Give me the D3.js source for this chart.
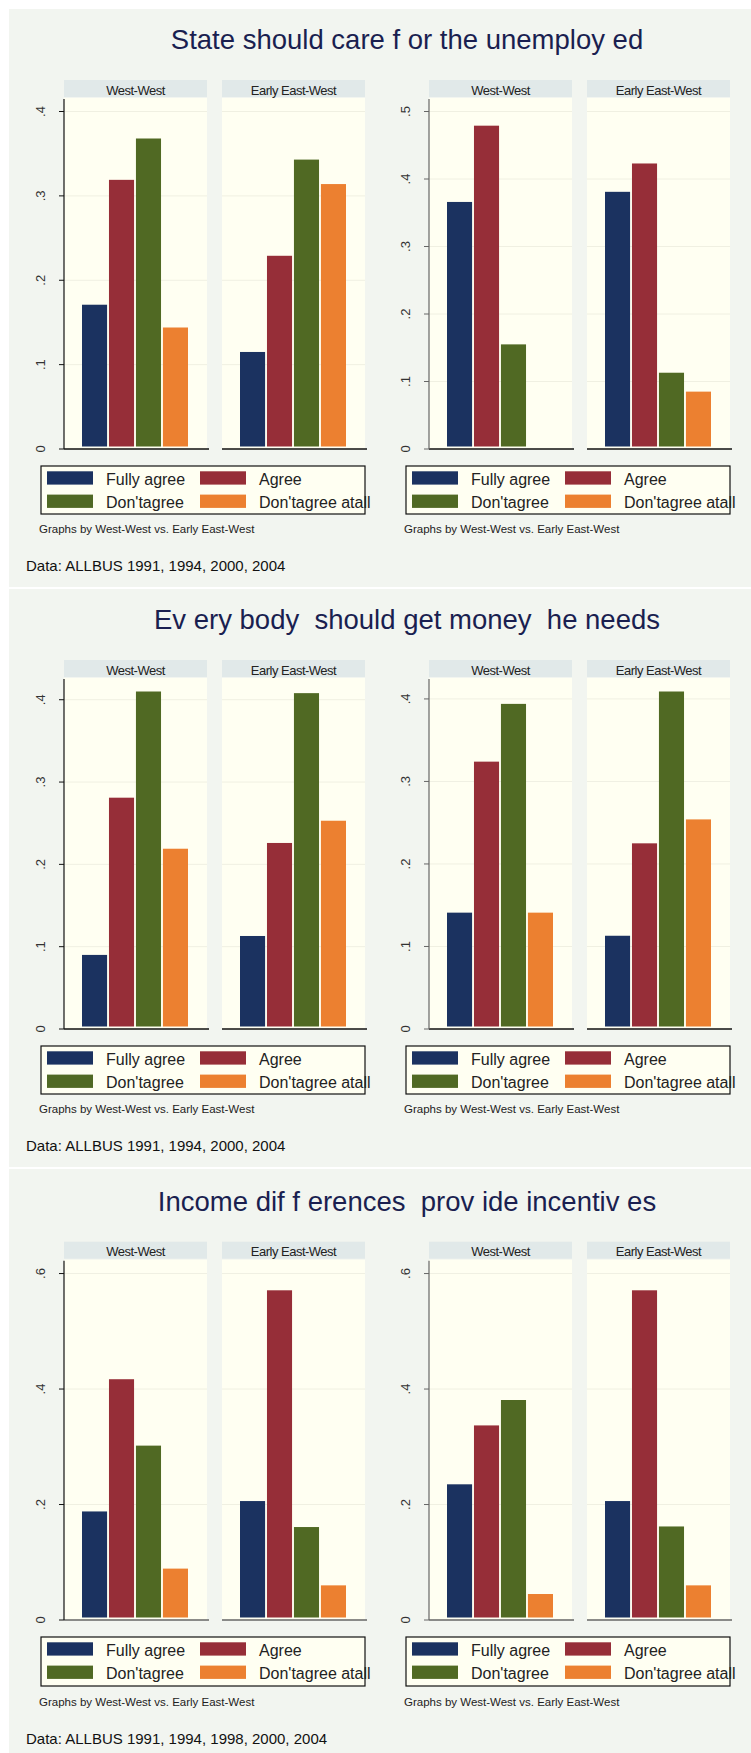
<!DOCTYPE html>
<html>
<head>
<meta charset="utf-8">
<script src="https://cdn.jsdelivr.net/npm/d3@7"></script>
<style>
  html, body { margin: 0; padding: 0; background: #ffffff; }
  svg { display: block; font-family: Arial, "Liberation Sans", sans-serif; }
  .title { white-space: pre; }
</style>
</head>
<body>
<svg id="chart" width="751" height="1753"></svg>
<script>
// ---- Data -------------------------------------------------------------
const categories = ["Fully agree", "Agree", "Don'tagree", "Don'tagree atall"];
const groups = ["West-West", "Early East-West"];
const colors = ["#1b3260", "#962e38", "#506923", "#ec8030"];

const titles = [
  "State should care f or the unemploy ed",
  "Ev ery body  should get money  he needs",
  "Income dif f erences  prov ide incentiv es"
];
const sources = [
  "Data: ALLBUS 1991, 1994, 2000, 2004",
  "Data: ALLBUS 1991, 1994, 2000, 2004",
  "Data: ALLBUS 1991, 1994, 1998, 2000, 2004"
];

const ticksToFour = [0, 0.1, 0.2, 0.3, 0.4];
const ticksToFive = [0, 0.1, 0.2, 0.3, 0.4, 0.5];
const ticksBySteps = [0, 0.2, 0.4, 0.6];

// shares by answer: [West-West, Early East-West]
const careLeft      = [[0.171, 0.319, 0.368, 0.144], [0.115, 0.229, 0.343, 0.314]];
const careRight     = [[0.366, 0.479, 0.155, 0.000], [0.381, 0.423, 0.113, 0.085]];
const moneyLeft     = [[0.090, 0.281, 0.410, 0.219], [0.113, 0.226, 0.408, 0.253]];
const moneyRight    = [[0.141, 0.324, 0.394, 0.141], [0.113, 0.225, 0.409, 0.254]];
const incomeLeft    = [[0.188, 0.417, 0.302, 0.089], [0.206, 0.571, 0.161, 0.060]];
const incomeRight   = [[0.235, 0.337, 0.381, 0.045], [0.206, 0.571, 0.162, 0.060]];

const sections = [
  { title: titles[0], source: sources[0], charts: [
      { values: careLeft,  ticks: ticksToFour },
      { values: careRight, ticks: ticksToFive } ] },
  { title: titles[1], source: sources[1], charts: [
      { values: moneyLeft,  ticks: ticksToFour },
      { values: moneyRight, ticks: ticksToFour } ] },
  { title: titles[2], source: sources[2], charts: [
      { values: incomeLeft,  ticks: ticksBySteps },
      { values: incomeRight, ticks: ticksBySteps } ] }
];

// ---- Layout -----------------------------------------------------------
const W = 751;
const panelTop = [9, 589, 1169];
const panelH = [578, 578, 584];
const axisOffset = [440, 440, 451];     // x-axis line below panel top
const stripOffset = [71, 71, 72.7];
const chartX = [64, 429];               // y-axis position of each chart
const facetW = 143, facetStep = 158, stripH = 17;

const bgPanel = "#f2f5f0", bgPlot = "#fffff2", bgStrip = "#e1e9e9";
const tickFmt = d => d === 0 ? "0" : d3.format(".1f")(d).replace(/^0/, "");

const svg = d3.select("#chart");

sections.forEach((sec, p) => {
  const top = panelTop[p];
  const B = top + axisOffset[p];
  const stripTop = top + stripOffset[p];
  const plotTop = stripTop + stripH + 1;
  const extra = (panelH[p] - 578) / 3;

  svg.append("rect")
    .attr("x", 9).attr("y", top).attr("width", W - 9).attr("height", panelH[p])
    .attr("fill", bgPanel);

  svg.append("text").attr("class", "title")
    .attr("x", 407).attr("y", top + 40 + (p === 2 ? 1.5 : 0))
    .attr("text-anchor", "middle")
    .attr("font-size", 27.5).attr("fill", "#1a1f50")
    .text(sec.title);

  sec.charts.forEach((ch, c) => {
    const ox = chartX[c];
    const axisCol = c === 0 ? "#111" : "#666";
    const xAxisCol = p === 2 ? "#666" : "#111";
    const yTop = Math.max(d3.max(ch.values.flat()), d3.max(ch.ticks)) * 1.04;
    const y = d3.scaleLinear().domain([0, yTop]).range([B, plotTop]);
    const g = svg.append("g");

    groups.forEach((grp, gi) => {
      const fx = ox + gi * facetStep;
      // strip
      g.append("rect").attr("x", fx).attr("y", stripTop)
        .attr("width", facetW).attr("height", stripH).attr("fill", bgStrip);
      g.append("text").attr("x", fx + facetW / 2).attr("y", stripTop + stripH - 2.5)
        .attr("text-anchor", "middle").attr("font-size", 13)
        .attr("letter-spacing", -0.5).attr("fill", "#222").text(grp);
      // plot region
      g.append("rect").attr("x", fx).attr("y", plotTop)
        .attr("width", facetW).attr("height", B - plotTop).attr("fill", bgPlot);
      // gridlines
      g.selectAll(null).data(ch.ticks.filter(t => t > 0)).join("line")
        .attr("x1", fx).attr("x2", fx + facetW)
        .attr("y1", d => y(d)).attr("y2", d => y(d))
        .attr("stroke", "#f0f0e2").attr("stroke-width", 1);
      // bars
      const x = d3.scaleBand().domain(categories)
        .range([fx + 18, fx + facetW - 19]).paddingInner(0.07);
      g.selectAll(null).data(categories.map((k, i) => ({ k, i, v: ch.values[gi][i] })))
        .join("rect")
        .filter(d => d.v > 0)
        .attr("x", d => x(d.k)).attr("width", x.bandwidth())
        .attr("y", d => y(d.v)).attr("height", d => y(0) - 2.5 - y(d.v))
        .attr("fill", d => colors[d.i]);
      // x axis line
      g.append("line").attr("x1", fx).attr("x2", fx + facetW + 2)
        .attr("y1", B).attr("y2", B)
        .attr("stroke", xAxisCol).attr("stroke-width", 1.3);
    });

    // y axis
    g.append("line").attr("x1", ox).attr("x2", ox)
      .attr("y1", plotTop + 1).attr("y2", B)
      .attr("stroke", axisCol).attr("stroke-width", 1.2);
    g.selectAll(null).data(ch.ticks).join("line")
      .attr("x1", ox - 5).attr("x2", ox)
      .attr("y1", d => y(d)).attr("y2", d => y(d))
      .attr("stroke", axisCol).attr("stroke-width", 1);
    g.selectAll(null).data(ch.ticks).join("text")
      .attr("transform", d => `translate(${ox - 24},${y(d)}) rotate(-90)`)
      .attr("text-anchor", "middle").attr("dy", "0.35em")
      .attr("font-size", 13).attr("fill", "#333")
      .text(tickFmt);

    // legend
    const lx = ox - 23, ly = B + 17;
    g.append("rect").attr("x", lx).attr("y", ly)
      .attr("width", 324).attr("height", 48 + extra / 2)
      .attr("fill", bgPlot).attr("stroke", "#111").attr("stroke-width", 1.2);
    categories.forEach((k, i) => {
      const col = i % 2, row = Math.floor(i / 2);
      g.append("rect").attr("x", lx + 6 + col * 153).attr("y", ly + 5.3 + row * 23.3)
        .attr("width", 46).attr("height", 13.3).attr("fill", colors[i]);
      g.append("text").attr("x", lx + 65 + col * 153).attr("y", ly + 18.8 + row * 23.3)
        .attr("font-size", 16).attr("fill", "#222").text(k);
    });

    g.append("text").attr("x", ox - 25).attr("y", B + 84 + extra)
      .attr("font-size", 11.5).attr("fill", "#222")
      .text("Graphs by West-West vs. Early East-West");
  });

  svg.append("text").attr("x", 26).attr("y", B + 122 + extra)
    .attr("font-size", 15).attr("fill", "#111").text(sec.source);
});
</script>
</body>
</html>
